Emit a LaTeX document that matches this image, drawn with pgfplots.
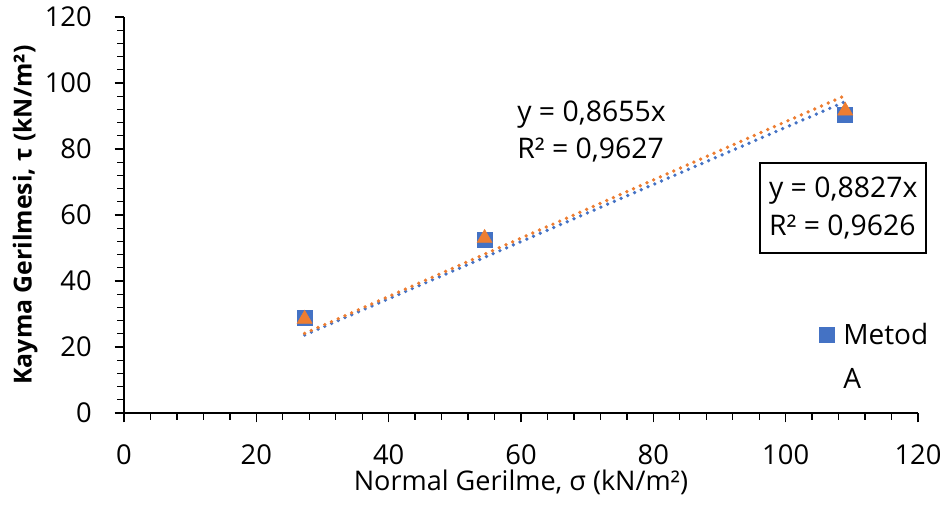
\documentclass[border=0pt]{standalone}
\usepackage{fontspec}
\setmainfont{Open Sans}
\usepackage{pgfplots}
\pgfplotsset{compat=1.18}
\definecolor{xlblue}{HTML}{4472C4}
\definecolor{xlorange}{HTML}{ED7D31}
\begin{document}
\begin{tikzpicture}
\path[use as bounding box] (0,0) rectangle (708.75pt,378.75pt);
\begin{axis}[
  at={(93pt,69pt)}, anchor=south west,
  scale only axis, width=595.5pt, height=297pt,
  xmin=0, xmax=120, ymin=0, ymax=120,
  xtick={0,20,...,120}, ytick={0,20,...,120},
  yticklabels={},
  minor tick num=4,
  axis lines*=left,
  axis line style={line width=1pt},
  tick style={line width=1pt, black},
  tick align=outside,
  major tick length=7pt, minor tick length=5pt,
  /pgf/number format/assume math mode=true,
  tick label style={font=\fontsize{20.5}{24}\selectfont},
  xticklabel style={yshift=-13pt},
  xlabel={Normal Gerilme, σ (kN/m²)},
  ylabel={\bfseries Kayma Gerilmesi, τ (kN/m²)},
  xlabel style={font=\fontsize{20.3}{24}\selectfont, at={(axis description cs:0.5,-0.174)}, anchor=center},
  ylabel style={font=\fontsize{18.6}{22}\selectfont, at={(axis description cs:-0.1243,0.5)}, anchor=center},
  clip=false,
  legend style={at={(axis description cs:0.87,0.266)}, anchor=north west, draw=none, fill=none,
    font=\fontsize{21}{33}\selectfont},
  legend cell align=left,
]
\addplot[only marks, mark=square*, mark size=5.6pt, color=xlblue, legend image post style={yshift=-3.5pt}]
  coordinates {(27.3,28.8) (54.5,52.5) (109,90.5)};
\addlegendentry{\begin{tabular}[t]{@{\hspace{5pt}}l@{}}Metod\\A\end{tabular}}
\addplot[only marks, mark=triangle*, mark size=6.5pt, color=xlorange, forget plot]
  coordinates {(27.3,28.5) (54.5,53.0) (109,91.6)};
\addplot[xlblue, line width=2.8pt, line cap=round, dash pattern=on 0pt off 5.5pt, forget plot]
  coordinates {(27.3,23.63) (109,94.34)};
\addplot[xlorange, line width=2.8pt, line cap=round, dash pattern=on 0pt off 5.5pt, forget plot]
  coordinates {(27.3,24.10) (109,96.21)};
\node[anchor=west, align=left, font=\fontsize{21.3}{27.75}\selectfont, inner sep=0pt]
  at (axis cs:59.4,85.3) {y = 0,8655x\\R² = 0,9627};
\node[draw, line width=1.2pt, align=left, font=\fontsize{21.3}{28.5}\selectfont, inner sep=3pt,
  minimum width=124.5pt, minimum height=67.5pt]
  at (axis cs:108.7,62.1) {y = 0,8827x\\R² = 0,9626};
\node[anchor=east, inner sep=0pt, xshift=-24pt, font=\fontsize{20.5}{24}\selectfont] at (axis cs:0,0) {0};
\node[anchor=east, inner sep=0pt, xshift=-24pt, font=\fontsize{20.5}{24}\selectfont] at (axis cs:0,20) {20};
\node[anchor=east, inner sep=0pt, xshift=-24pt, font=\fontsize{20.5}{24}\selectfont] at (axis cs:0,40) {40};
\node[anchor=east, inner sep=0pt, xshift=-24pt, font=\fontsize{20.5}{24}\selectfont] at (axis cs:0,60) {60};
\node[anchor=east, inner sep=0pt, xshift=-24pt, font=\fontsize{20.5}{24}\selectfont] at (axis cs:0,80) {80};
\node[anchor=east, inner sep=0pt, xshift=-24pt, font=\fontsize{20.5}{24}\selectfont] at (axis cs:0,100) {100};
\node[anchor=east, inner sep=0pt, xshift=-24pt, font=\fontsize{20.5}{24}\selectfont] at (axis cs:0,120) {120};
\end{axis}
\end{tikzpicture}
\end{document}
